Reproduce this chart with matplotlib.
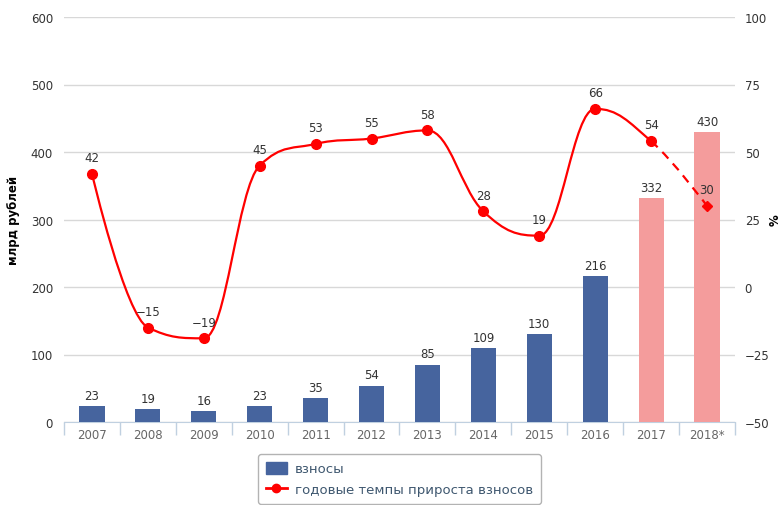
import numpy as np
import matplotlib
matplotlib.use("Agg")
import matplotlib.pyplot as plt
from matplotlib.path import Path
import matplotlib.patches as mpatches
from matplotlib.lines import Line2D

# ── Data ───────────────────────────────────────────────────────────────────
YEARS = ["2007", "2008", "2009", "2010", "2011", "2012", "2013",
         "2014", "2015", "2016", "2017", "2018*"]
CONTRIB = [23, 19, 16, 23, 35, 54, 85, 109, 130, 216, 332, 430]   # млрд руб.
GROWTH = [42, -15, -19, 45, 53, 55, 58, 28, 19, 66, 54, 30]       # %
N_FACT = 10          # first 10 bars are actual, the rest forecast

BLUE = "#46649e"
PINK = "#f49c9c"
RED = "#ff0000"
TXT = "#333333"
AXC = "#c0d0e0"


def spline_path(xs, ys, smoothing=1.5):
    """Highcharts-style spline: returns list of bezier segments."""
    n = len(xs)
    lc = [(x, y) for x, y in zip(xs, ys)]
    rc = [(x, y) for x, y in zip(xs, ys)]
    d = smoothing + 1
    for i in range(1, n - 1):
        px, py = xs[i], ys[i]
        lx, ly = xs[i - 1], ys[i - 1]
        nx, ny = xs[i + 1], ys[i + 1]
        lcx = (smoothing * px + lx) / d
        lcy = (smoothing * py + ly) / d
        rcx = (smoothing * px + nx) / d
        rcy = (smoothing * py + ny) / d
        corr = (rcy - lcy) * (rcx - px) / (rcx - lcx) + py - rcy
        lcy += corr
        rcy += corr
        if lcy > ly and lcy > py:
            lcy = max(ly, py)
            rcy = 2 * py - lcy
        elif lcy < ly and lcy < py:
            lcy = min(ly, py)
            rcy = 2 * py - lcy
        if rcy > ny and rcy > py:
            rcy = max(ny, py)
            lcy = 2 * py - rcy
        elif rcy < ny and rcy < py:
            rcy = min(ny, py)
            lcy = 2 * py - rcy
        lc[i] = (lcx, lcy)
        rc[i] = (rcx, rcy)
    segs = []
    for i in range(1, n):
        segs.append([(xs[i - 1], ys[i - 1]), rc[i - 1], lc[i], (xs[i], ys[i])])
    return segs


fig = plt.figure(figsize=(7.83, 5.06), dpi=100)
ax = fig.add_axes([64 / 783, 83 / 506, 671 / 783, 405 / 506])
ax2 = ax.twinx()

x = np.arange(len(YEARS))
colors = [BLUE] * N_FACT + [PINK] * (len(YEARS) - N_FACT)
bars = ax.bar(x, CONTRIB, width=0.45, color=colors, zorder=3)
ax.bar_label(bars, padding=3, fontsize=8.5, color=TXT)

ax.set_xlim(-0.5, len(YEARS) - 0.5)
ax.set_ylim(0, 600)
ax.set_yticks(range(0, 601, 100))
ax2.set_ylim(-50, 100)
ax2.set_yticks(range(-50, 101, 25))
ax2.set_yticklabels([str(v).replace("-", "\u2212") for v in range(-50, 101, 25)])

ax.yaxis.grid(True, color="#d8d8d8", linewidth=1, zorder=0)
ax.set_axisbelow(True)
for a in (ax, ax2):
    for s in ("top", "left", "right"):
        a.spines[s].set_visible(False)
ax.spines["bottom"].set_color(AXC)
ax2.spines["bottom"].set_visible(False)

ax.tick_params(axis="y", length=0, labelsize=8.5, labelcolor=TXT, pad=8)
ax2.tick_params(axis="y", length=0, labelsize=8.5, labelcolor=TXT, pad=7)
ax.set_xticks(x)
ax.set_xticklabels(YEARS)
ax.tick_params(axis="x", length=0, labelsize=8.5, labelcolor="#666666", pad=4)
ax.set_xticks(np.arange(-0.5, len(YEARS)), minor=True)
ax.tick_params(axis="x", which="minor", length=9, color=AXC, width=1)

ax.set_ylabel("млрд рублей", fontsize=8.5, fontweight="bold", color="black", labelpad=8)
fig.text(775 / 783, 1 - 220 / 506, "%", rotation=90, ha="center", va="center",
         fontsize=8.5, fontweight="bold", color="black")

# spline line
segs = spline_path(list(x.astype(float)), [float(v) for v in GROWTH])
verts, codes = [], []
for k, s in enumerate(segs[:-1]):
    if k == 0:
        verts.append(s[0]); codes.append(Path.MOVETO)
    verts += s[1:]
    codes += [Path.CURVE4] * 3
ax2.add_patch(mpatches.PathPatch(Path(verts, codes), fill=False, edgecolor=RED,
                                 linewidth=1.6, zorder=4))
last = segs[-1]
ax2.add_patch(mpatches.PathPatch(Path(last, [Path.MOVETO] + [Path.CURVE4] * 3),
                                 fill=False, edgecolor=RED, linewidth=1.6,
                                 linestyle=(0, (4, 3)), zorder=4))
ax2.plot(x[:-1], GROWTH[:-1], "o", color=RED, markersize=7, zorder=5)
ax2.plot(x[-1:], GROWTH[-1:], "D", color=RED, markersize=5.5, zorder=5)
for xi, v in zip(x, GROWTH):
    ax2.annotate(str(v).replace("-", "\u2212"), (xi, v), xytext=(0, 7),
                 textcoords="offset points", ha="center", va="bottom",
                 fontsize=8.5, color=TXT, zorder=6)

# legend
h_bar = mpatches.Patch(color=BLUE)
h_line = Line2D([], [], color=RED, linewidth=2, marker="o", markersize=6)
leg = fig.legend([h_bar, h_line], ["взносы", "годовые темпы прироста взносов"],
                 loc="upper left", bbox_to_anchor=(258 / 783, 1 - 455 / 506),
                 fontsize=9.5, frameon=True, fancybox=True, handlelength=1.6,
                 handleheight=1.0, borderpad=0.6, labelspacing=0.55,
                 handletextpad=0.6, borderaxespad=0)
for t in leg.get_texts():
    t.set_color("#3e576f")
leg.get_frame().set_edgecolor("#a0a0a0")
leg.get_frame().set_linewidth(1)

fig.savefig("out.png", dpi=100)
